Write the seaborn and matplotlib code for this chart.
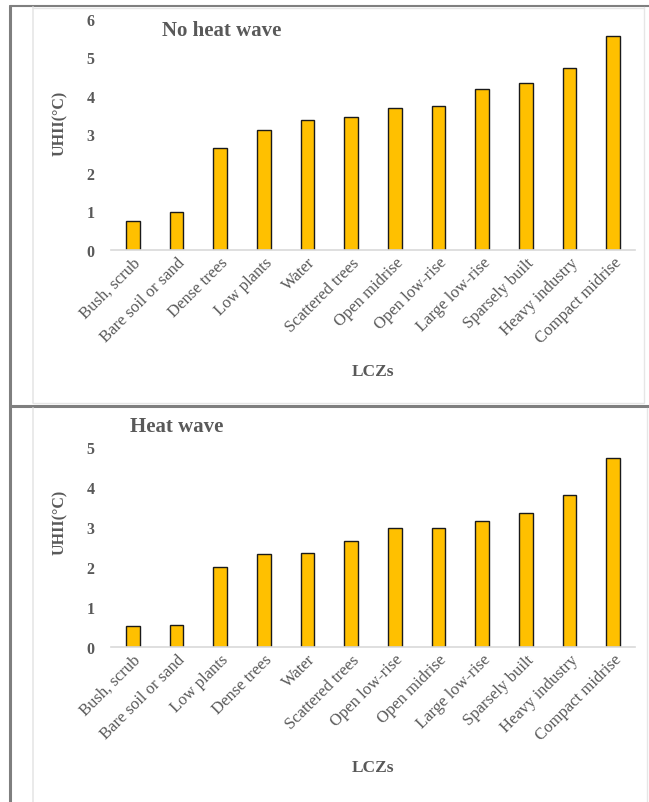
import matplotlib
matplotlib.use("Agg")
import matplotlib.pyplot as plt
from matplotlib.lines import Line2D
import seaborn as sns
import pandas as pd

# UHII by local climate zone, sorted ascending in each panel
lcz_no_heat = ["Bush, scrub", "Bare soil or sand", "Dense trees", "Low plants", "Water",
               "Scattered trees", "Open midrise", "Open low-rise", "Large low-rise",
               "Sparsely built", "Heavy industry", "Compact midrise"]
uhii_no_heat = [0.75, 0.98, 2.64, 3.11, 3.38, 3.46, 3.68, 3.74, 4.18, 4.33, 4.74, 5.57]

lcz_heat = ["Bush, scrub", "Bare soil or sand", "Low plants", "Dense trees", "Water",
            "Scattered trees", "Open low-rise", "Open midrise", "Large low-rise",
            "Sparsely built", "Heavy industry", "Compact midrise"]
uhii_heat = [0.53, 0.56, 1.99, 2.32, 2.36, 2.65, 2.97, 2.97, 3.15, 3.35, 3.79, 4.72]

titles = ["No heat wave", "Heat wave"]
yticks_top = [0, 1, 2, 3, 4, 5, 6]
yticks_bottom = [0, 1, 2, 3, 4, 5]

sns.set_theme(style="white")
plt.rcParams["font.family"] = ["Liberation Serif", "DejaVu Serif"]

W, H = 649, 803
fig = plt.figure(figsize=(W / 100, H / 100), dpi=100)
fig.patch.set_facecolor("white")

TXT = "#595959"
BAR = "#FFC000"


def fx(px):
    return px / W


def fy(py):
    return 1 - py / H


def panel(rect, cats, vals, ticks, title, title_xy, ylab_y, xlab_y):
    ax = fig.add_axes(rect)
    df = pd.DataFrame({"LCZ": cats, "UHII": vals})
    sns.barplot(data=df, x="LCZ", y="UHII", order=cats, color=BAR, width=0.32,
                edgecolor="#1a1a1a", linewidth=1.0, saturation=1, ax=ax)
    ax.set_ylim(0, ticks[-1])
    ax.set_xlim(-0.5, len(cats) - 0.5)
    ax.set_yticks(ticks)
    ax.set_yticklabels([str(t) for t in ticks], fontsize=11.5, fontweight="bold", color=TXT)
    ax.tick_params(axis="y", length=0, pad=12)
    ax.tick_params(axis="x", length=0, pad=3)
    ax.set_xticks(range(len(cats)))
    ax.set_xticklabels(cats, rotation=45, ha="right", rotation_mode="anchor",
                       fontsize=12, color=TXT)
    for s in ["top", "right", "left"]:
        ax.spines[s].set_visible(False)
    ax.spines["bottom"].set_color("#d9d9d9")
    ax.spines["bottom"].set_linewidth(1.2)
    ax.set_xlabel("")
    ax.set_ylabel("")
    ax.patch.set_alpha(0)
    fig.text(fx(title_xy[0]), fy(title_xy[1]), title, fontsize=15, fontweight="bold",
             color=TXT, ha="left", va="center")
    fig.text(fx(60), fy(ylab_y), "UHII(°C)", rotation=90, fontsize=11.5, fontweight="bold",
             color=TXT, ha="center", va="center")
    fig.text(fx(373), fy(xlab_y), "LCZs", fontsize=12.5, fontweight="bold",
             color=TXT, ha="center", va="center")
    return ax


left, right = 111, 635
panel([fx(left), fy(251), fx(right - left), (231) / H], lcz_no_heat, uhii_no_heat,
      yticks_top, titles[0], (162, 31), 123, 372)
panel([fx(left), fy(648), fx(right - left), 200 / H], lcz_heat, uhii_heat,
      yticks_bottom, titles[1], (130, 427), 522, 768)

# table frame around the two panels
dark = "#7f7f7f"
light = "#e6e6e6"
lines = [
    ((9.5, 9.5), (6.5, 803), dark, 2.2),
    ((9.5, 649), (6.5, 6.5), dark, 1.5),
    ((9.5, 649), (406.5, 406.5), dark, 2.2),
    ((33, 33), (8, 404), light, 1.2),
    ((33, 33), (409, 803), light, 1.2),
    ((33, 644), (8.5, 8.5), light, 1.0),
    ((644, 644), (8, 403), light, 1.0),
    ((33, 644), (403.5, 403.5), light, 1.0),
    ((647, 647), (409, 803), light, 1.0),
]
for xs, ys, c, lw in lines:
    fig.add_artist(Line2D([fx(x) for x in xs], [fy(y) for y in ys], color=c, lw=lw,
                          transform=fig.transFigure))

fig.savefig("out.png", dpi=100, facecolor="white")
